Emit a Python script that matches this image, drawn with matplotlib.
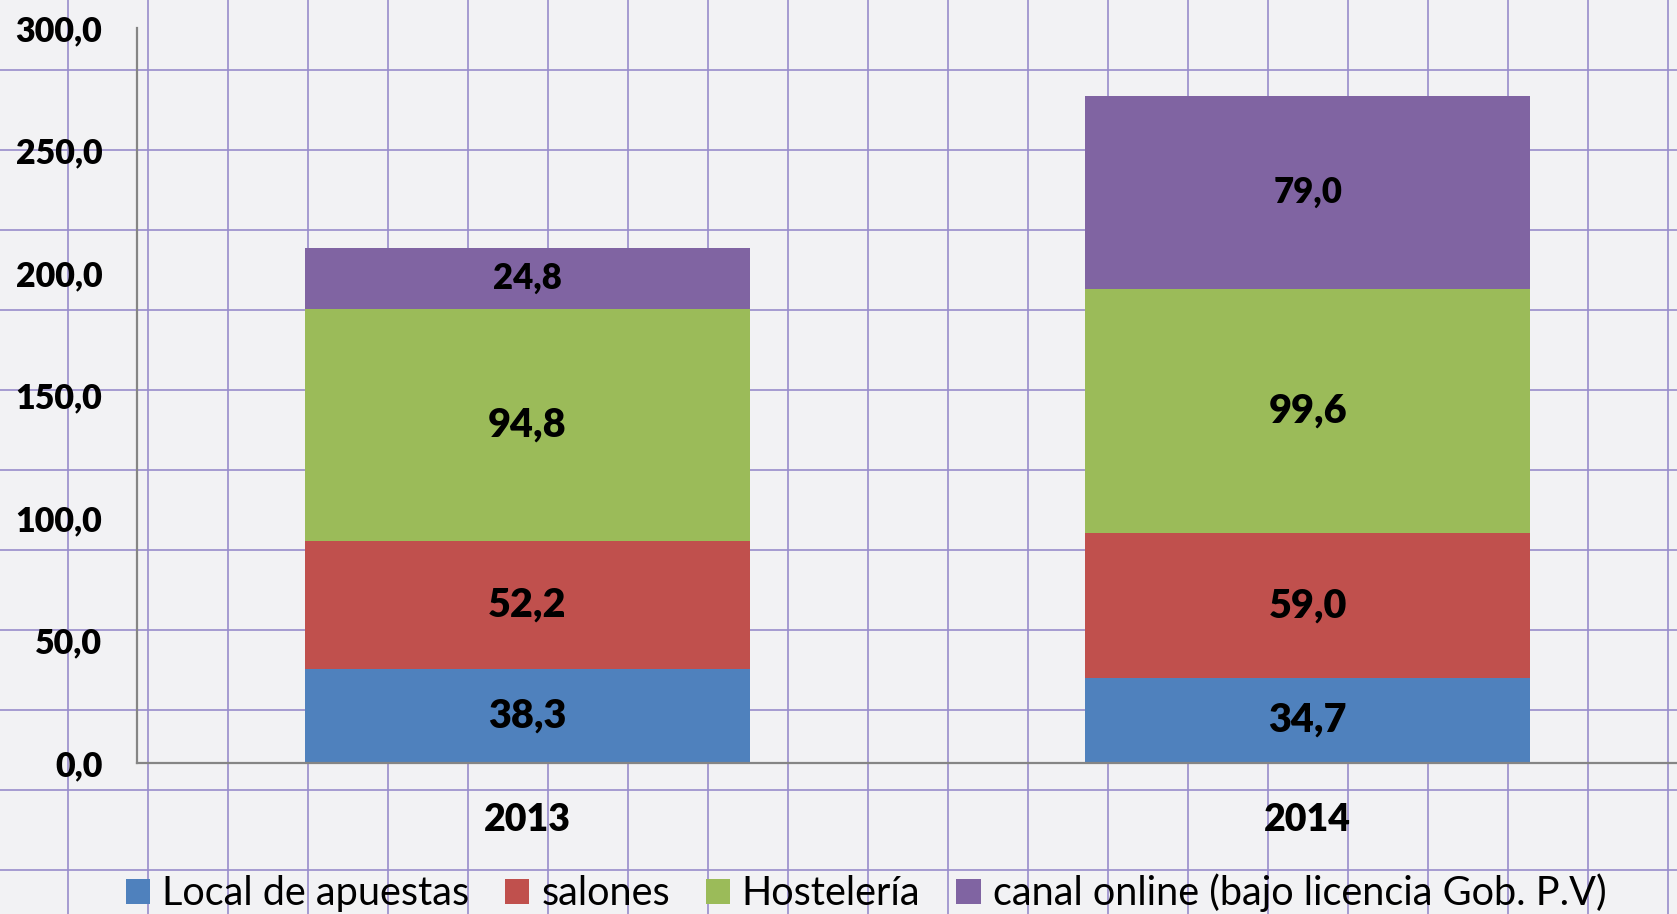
import numpy as np
import matplotlib.pyplot as plt
from matplotlib.lines import Line2D

plt.rcParams['font.family'] = ['Lato', 'DejaVu Sans']

# datos
years = ['2013', '2014']
local_apuestas = [38.3, 34.7]
salones = [52.2, 59.0]
hosteleria = [94.8, 99.6]
canal_online = [24.8, 79.0]

series = [
    ('Local de apuestas', local_apuestas, '#4F81BD'),
    ('salones', salones, '#C0504D'),
    ('Hostelería', hosteleria, '#9BBB59'),
    ('canal online (bajo licencia Gob. P.V)', canal_online, '#8064A2'),
]

W, H = 1677, 914
fig = plt.figure(figsize=(W / 100, H / 100), dpi=100, facecolor='#F2F2F4')

# fondo de papel cuadriculado
for gx in np.arange(68, W, 80):
    fig.add_artist(Line2D([gx / W, gx / W], [0, 1], color='#988DCB', lw=1.2, zorder=-1))
for gy in np.arange(70, H, 80):
    fig.add_artist(Line2D([0, 1], [1 - gy / H, 1 - gy / H], color='#988DCB', lw=1.2, zorder=-1))

ax = fig.add_axes([137 / W, 1 - 763 / H, (1698 - 137) / W, (763 - 28) / H])
ax.set_facecolor('none')

x = np.arange(len(years))
bottom = np.zeros(len(years))
for name, vals, color in series:
    bars = ax.bar(x, vals, width=0.57, bottom=bottom, color=color, label=name, zorder=2)
    size = 25 if name.startswith('canal') else 28.5
    ax.bar_label(bars, labels=[f"{v:.1f}".replace('.', ',') for v in vals],
                 label_type='center', fontsize=size, fontweight='heavy', color='black')
    bottom += np.array(vals)

ax.set_xlim(-0.5, 1.5)
ax.set_ylim(0, 300)
ax.set_yticks(np.arange(0, 301, 50))
ax.set_yticklabels([f"{v:.1f}".replace('.', ',') for v in np.arange(0, 301, 50)])
ax.set_xticks(x)
ax.set_xticklabels(years)
ax.tick_params(axis='y', length=0, pad=25, labelsize=24.5)
ax.tick_params(axis='x', length=0, pad=29, labelsize=27)
for lab in ax.get_xticklabels() + ax.get_yticklabels():
    lab.set_fontweight('heavy')

for s in ['top', 'right']:
    ax.spines[s].set_visible(False)
for s in ['left', 'bottom']:
    ax.spines[s].set_color('#858585')
    ax.spines[s].set_linewidth(1.6)

fig.legend(loc='center left', bbox_to_anchor=(126 / W, 1 - 893 / H), ncol=4,
           frameon=False, fontsize=28.5, handlelength=0.61, handleheight=0.61,
           handletextpad=0.3, columnspacing=0.91, borderpad=0, borderaxespad=0)

fig.savefig('out.png', dpi=100, facecolor=fig.get_facecolor())
